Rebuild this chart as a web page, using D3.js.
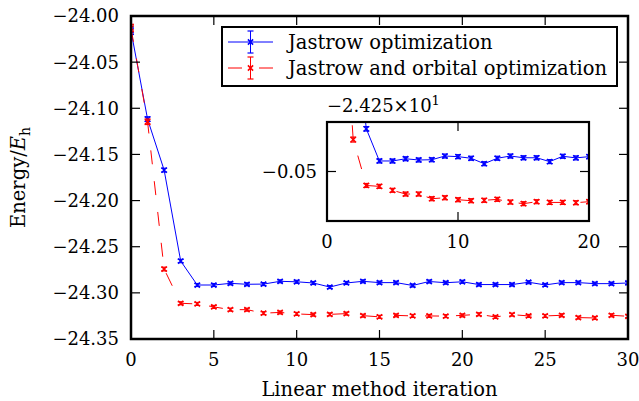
<!DOCTYPE html>
<html>
<head>
<meta charset="utf-8">
<script src="https://cdn.jsdelivr.net/npm/d3@7"></script>
<style>
body { margin: 0; background: #fff; }
text { font-family: "DejaVu Serif", "Liberation Serif", serif; fill: #000; }
</style>
</head>
<body>
<div id="chart"></div>
<script>
// data
var iterations = [0,1,2,3,4,5,6,7,8,9,10,11,12,13,14,15,16,17,18,19,20,21,22,23,24,25,26,27,28,29,30];
var jastrow = [-24.016, -24.1117, -24.167, -24.2655, -24.2915, -24.2915, -24.2897, -24.2907, -24.2905, -24.2875,
    -24.288, -24.2893, -24.2937, -24.2893, -24.2875, -24.2889, -24.2889, -24.292, -24.2877, -24.289,
    -24.288, -24.291, -24.291, -24.291, -24.2885, -24.2914, -24.2889, -24.2889, -24.29, -24.29, -24.2893];
var jastrowErr = [0.004, 0.0025, 0.002, 0.0018, 0.0016, 0.0016, 0.0016, 0.0016, 0.0016, 0.0016,
    0.0016, 0.0016, 0.0016, 0.0016, 0.0016, 0.0016, 0.0016, 0.0016, 0.0016, 0.0016,
    0.0016, 0.0016, 0.0016, 0.0016, 0.0016, 0.0016, 0.0016, 0.0016, 0.0016, 0.0016, 0.0016];
var orbital = [-24.013, -24.1146, -24.2742, -24.3113, -24.312, -24.3152, -24.3182, -24.3182, -24.322, -24.3212,
    -24.3228, -24.3236, -24.3233, -24.3225, -24.3247, -24.326, -24.3244, -24.325, -24.325, -24.3252,
    -24.3244, -24.3232, -24.3261, -24.3236, -24.325, -24.325, -24.3243, -24.3268, -24.3272, -24.3243, -24.3254];
var orbitalErr = [0.004, 0.003, 0.002, 0.0016, 0.0016, 0.0016, 0.0016, 0.0016, 0.0016, 0.0016,
    0.0016, 0.0016, 0.0016, 0.0016, 0.0016, 0.0016, 0.0016, 0.0016, 0.0016, 0.0016,
    0.0016, 0.0016, 0.0016, 0.0016, 0.0016, 0.0016, 0.0016, 0.0016, 0.0016, 0.0016, 0.0016];
var seriesNames = ["Jastrow optimization", "Jastrow and orbital optimization"];
var mainXTicks = [0, 5, 10, 15, 20, 25, 30];
var mainYTicks = [-24.35, -24.30, -24.25, -24.20, -24.15, -24.10, -24.05, -24.00];
var insetXTicks = [0, 10, 20];
var insetYTicks = [-24.30];
var insetOffset = -24.25;

var W = 639, H = 401;
var svg = d3.select("#chart").append("svg")
    .attr("width", W).attr("height", H);

// helper functions
function series(){
    return [
        {name: seriesNames[0], values: jastrow, errs: jastrowErr, color: "#0000ff", dash: null},
        {name: seriesNames[1], values: orbital, errs: orbitalErr, color: "#ff0000", dash: "14,17"}
    ];
}

function drawMarker(g, cx, cy, color){
    var s = 2.6;
    g.append("path")
        .attr("d", "M" + (cx - s) + "," + (cy - s) + "L" + (cx + s) + "," + (cy + s) +
            "M" + (cx - s) + "," + (cy + s) + "L" + (cx + s) + "," + (cy - s))
        .attr("stroke", color).attr("stroke-width", 1.5).attr("fill", "none");
}

function drawErrorbar(g, cx, y1, y2, color, capw){
    g.append("line").attr("x1", cx).attr("x2", cx).attr("y1", y1).attr("y2", y2)
        .attr("stroke", color).attr("stroke-width", 1);
    [y1, y2].forEach(function(yy){
        g.append("line").attr("x1", cx - capw).attr("x2", cx + capw).attr("y1", yy).attr("y2", yy)
            .attr("stroke", color).attr("stroke-width", 1.2);
    });
}

function drawSeries(g, x, y, s){
    var line = d3.line()
        .x(function(d, i){ return x(iterations[i]); })
        .y(function(d){ return y(d); });
    g.append("path").datum(s.values)
        .attr("d", line)
        .attr("fill", "none")
        .attr("stroke", s.color)
        .attr("stroke-width", 1)
        .attr("stroke-dasharray", s.dash);
    s.values.forEach(function(v, i){
        var cx = x(iterations[i]);
        drawErrorbar(g, cx, y(v + s.errs[i]), y(v - s.errs[i]), s.color, 3);
        drawMarker(g, cx, y(v), s.color);
    });
}

function drawTicks(g, x, y, xt, yt, len){
    var x0 = x.range()[0], x1 = x.range()[1];
    var y0 = y.range()[0], y1 = y.range()[1];
    xt.forEach(function(t){
        var px = x(t);
        g.append("line").attr("x1", px).attr("x2", px).attr("y1", y0).attr("y2", y0 - len)
            .attr("stroke", "#000").attr("stroke-width", 1.2);
        g.append("line").attr("x1", px).attr("x2", px).attr("y1", y1).attr("y2", y1 + len)
            .attr("stroke", "#000").attr("stroke-width", 1.2);
    });
    yt.forEach(function(t){
        var py = y(t);
        g.append("line").attr("x1", x0).attr("x2", x0 + len).attr("y1", py).attr("y2", py)
            .attr("stroke", "#000").attr("stroke-width", 1.2);
        g.append("line").attr("x1", x1).attr("x2", x1 - len).attr("y1", py).attr("y2", py)
            .attr("stroke", "#000").attr("stroke-width", 1.2);
    });
}

function fmtMinus(s){
    return s.replace("-", "\u2212");
}

// main axes
var mLeft = 131, mRight = 628, mTop = 16, mBottom = 339;
var x = d3.scaleLinear().domain([0, 30]).range([mLeft, mRight]);
var y = d3.scaleLinear().domain([-24.35, -24.00]).range([mBottom, mTop]);

svg.append("clipPath").attr("id", "clipMain").append("rect")
    .attr("x", mLeft).attr("y", mTop).attr("width", mRight - mLeft).attr("height", mBottom - mTop);

var plot = svg.append("g").attr("clip-path", "url(#clipMain)");
series().forEach(function(s){ drawSeries(plot, x, y, s); });

drawTicks(svg, x, y, mainXTicks, mainYTicks, 9);

svg.append("rect").attr("x", mLeft).attr("y", mTop)
    .attr("width", mRight - mLeft).attr("height", mBottom - mTop)
    .attr("fill", "none").attr("stroke", "#000").attr("stroke-width", 2.5);

svg.selectAll(".ytl").data(mainYTicks).enter().append("text")
    .attr("x", mLeft - 12).attr("y", function(d){ return y(d); })
    .attr("dy", "0.36em").attr("text-anchor", "end").attr("font-size", 18)
    .text(function(d){ return fmtMinus(d.toFixed(2)); });

svg.selectAll(".xtl").data(mainXTicks).enter().append("text")
    .attr("x", function(d){ return x(d); }).attr("y", 365.5)
    .attr("text-anchor", "middle").attr("font-size", 18)
    .text(function(d){ return d; });

svg.append("text").attr("x", (mLeft + mRight) / 2).attr("y", 396)
    .attr("text-anchor", "middle").attr("font-size", 19.5)
    .text("Linear method iteration");

var ylab = svg.append("text")
    .attr("transform", "translate(25," + ((mTop + mBottom) / 2) + ") rotate(-90)")
    .attr("text-anchor", "middle").attr("font-size", 19.5);
ylab.append("tspan").text("Energy/");
ylab.append("tspan").attr("font-style", "italic").text("E");
ylab.append("tspan").attr("font-size", 14).attr("dy", 5).text("h");

// legend
var lg = svg.append("g");
lg.append("rect").attr("x", 222).attr("y", 27).attr("width", 395).attr("height", 59)
    .attr("fill", "#fff").attr("stroke", "#000").attr("stroke-width", 2);
series().forEach(function(s, i){
    var cy = 42 + i * 26;
    lg.append("line").attr("x1", 228).attr("x2", 273).attr("y1", cy).attr("y2", cy)
        .attr("stroke", s.color).attr("stroke-width", 1).attr("stroke-dasharray", s.dash);
    drawErrorbar(lg, 250.5, cy - 11, cy + 11, s.color, 3);
    drawMarker(lg, 250.5, cy, s.color);
    lg.append("text").attr("x", 288).attr("y", cy).attr("dy", "0.36em")
        .attr("font-size", 19.5).text(s.name);
});

// inset
var il = 327, ir = 589, it = 122, ib = 221;
var xi = d3.scaleLinear().domain([0, 20]).range([il, ir]);
var yi = d3.scaleLinear().domain([-24.34, -24.26]).range([ib, it]);

svg.append("rect").attr("x", il).attr("y", it).attr("width", ir - il).attr("height", ib - it)
    .attr("fill", "#fff");
svg.append("clipPath").attr("id", "clipInset").append("rect")
    .attr("x", il).attr("y", it).attr("width", ir - il).attr("height", ib - it);
var inset = svg.append("g").attr("clip-path", "url(#clipInset)");
series().forEach(function(s){ drawSeries(inset, xi, yi, s); });

drawTicks(svg, xi, yi, insetXTicks, insetYTicks, 9);

svg.append("rect").attr("x", il).attr("y", it).attr("width", ir - il).attr("height", ib - it)
    .attr("fill", "none").attr("stroke", "#000").attr("stroke-width", 2.2);

svg.selectAll(".iytl").data(insetYTicks).enter().append("text")
    .attr("x", il - 10).attr("y", function(d){ return yi(d); })
    .attr("dy", "0.36em").attr("text-anchor", "end").attr("font-size", 18)
    .text(function(d){ return fmtMinus((d - insetOffset).toFixed(2)); });

svg.selectAll(".ixtl").data(insetXTicks).enter().append("text")
    .attr("x", function(d){ return xi(d); }).attr("y", 248)
    .attr("text-anchor", "middle").attr("font-size", 18)
    .text(function(d){ return d; });

var off = svg.append("text").attr("x", il).attr("y", 112).attr("font-size", 18);
off.append("tspan").text("\u22122.425\u00d710");
off.append("tspan").attr("font-size", 13).attr("dy", -7).text("1");
</script>
</body>
</html>
